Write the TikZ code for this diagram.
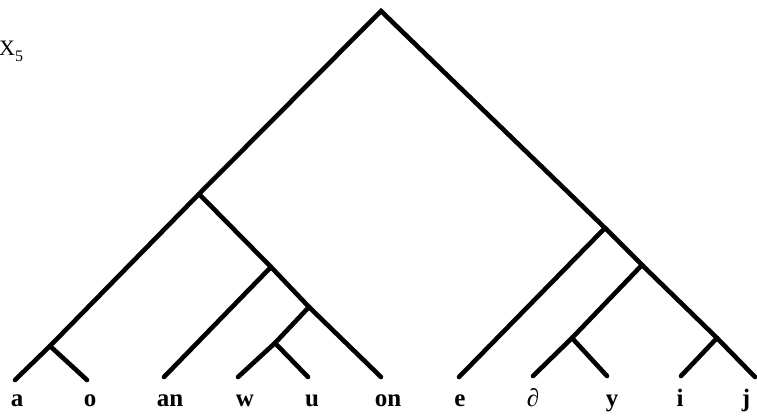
\documentclass[tikz,border=0pt]{standalone}
\usepackage{fontspec}
\setmainfont{Liberation Serif}
\tikzset{
  branch/.style={line width=4.6pt, line cap=round, line join=miter},
  lab/.style={font=\fontsize{25}{25}\selectfont\bfseries, anchor=base, inner sep=0pt},
}
\begin{document}
\begin{tikzpicture}[x=1pt,y=-1pt]
\useasboundingbox (0,0) rectangle (757,418);
% junctions
\coordinate (R) at (381,11);
\coordinate (A) at (199,194);
\coordinate (P) at (50,346);
\coordinate (C) at (271,267);
\coordinate (D) at (309,307);
\coordinate (Q) at (275,343);
\coordinate (B) at (605,228);
\coordinate (E) at (642,265);
\coordinate (F) at (572,338);
\coordinate (G) at (717,338);
% leaf ends
\coordinate (ta) at (15,380);
\coordinate (to) at (87,380);
\coordinate (tan) at (164,377);
\coordinate (tw) at (238,377);
\coordinate (tu) at (308,377);
\coordinate (ton) at (381,377);
\coordinate (te) at (459,377);
\coordinate (td) at (533,376);
\coordinate (ty) at (607,376);
\coordinate (ti) at (681,376);
\coordinate (tj) at (755,377);
% main spine
\draw[branch] (ta) -- (P) -- (A) -- (R) -- (B) -- (E) -- (G) -- (tj);
% left subtree
\draw[branch] (P) -- (to);
\draw[branch] (A) -- (C) -- (D) -- (ton);
\draw[branch] (C) -- (tan);
\draw[branch] (D) -- (Q) -- (tw);
\draw[branch] (Q) -- (tu);
% right subtree
\draw[branch] (B) -- (te);
\draw[branch] (E) -- (F) -- (td);
\draw[branch] (F) -- (ty);
\draw[branch] (G) -- (ti);
% labels
\node[lab] (la) at (17,406) {a};
\node[lab] (lo) at (90,406) {o};
\node[lab] (lan) at (170,406) {an};
\node[lab] (lw) at (245,406) {w};
\node[lab] (lu) at (312,406) {u};
\node[lab] (lon) at (388,406) {on};
\node[lab] (le) at (460,406) {e};
\node[lab] (ld) at (533,406) {∂};
\node[lab] (ly) at (612,406) {y};
\node[lab] (li) at (680,406) {i};
\node[lab] (lj) at (746,406) {j};
\node[anchor=base west, inner sep=0pt, font=\fontsize{22}{22}\selectfont] (x5) at (-1,55) {X\raisebox{-0.3em}{\fontsize{16}{16}\selectfont 5}};
\end{tikzpicture}
\end{document}
